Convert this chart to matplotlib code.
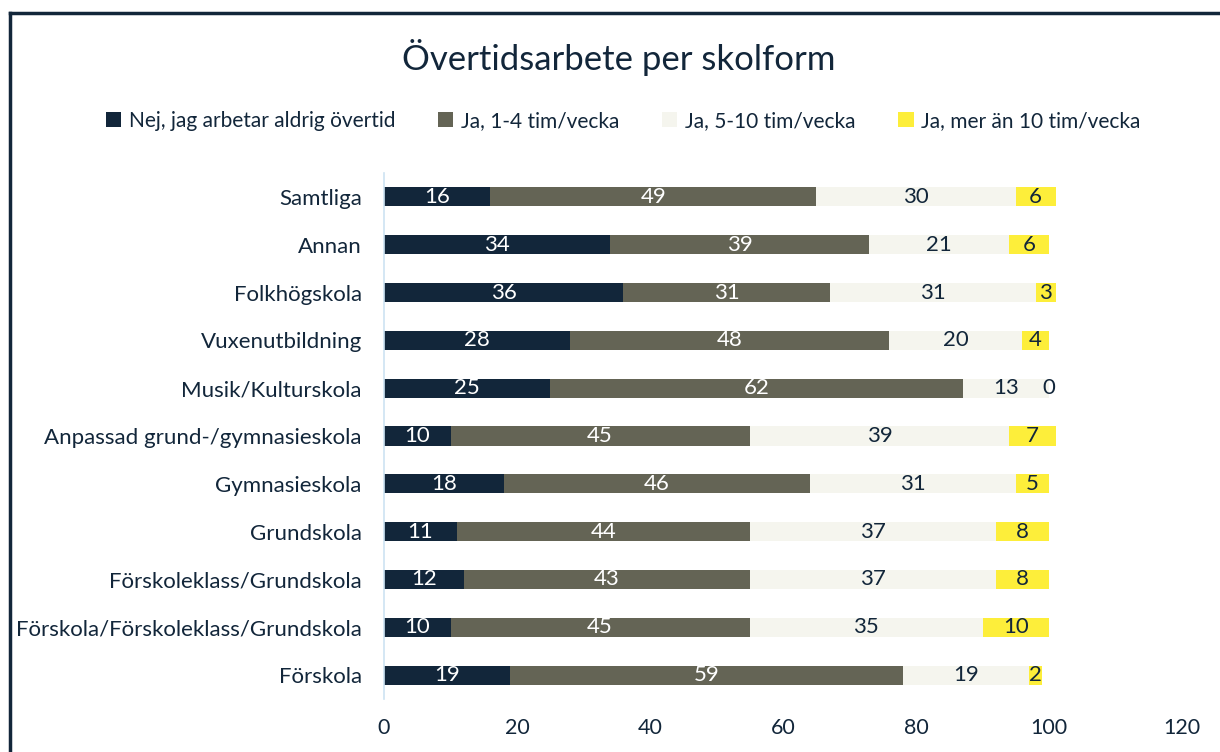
import numpy as np
import matplotlib.pyplot as plt
from matplotlib.lines import Line2D

plt.rcParams['font.family'] = ['Lato', 'DejaVu Sans']

# kategorier (nedifrån och upp)
categories = ['Förskola', 'Förskola/Förskoleklass/Grundskola', 'Förskoleklass/Grundskola',
              'Grundskola', 'Gymnasieskola', 'Anpassad grund-/gymnasieskola',
              'Musik/Kulturskola', 'Vuxenutbildning', 'Folkhögskola', 'Annan', 'Samtliga']

nej = [19, 10, 12, 11, 18, 10, 25, 28, 36, 34, 16]
ja_1_4 = [59, 45, 43, 44, 46, 45, 62, 48, 31, 39, 49]
ja_5_10 = [19, 35, 37, 37, 31, 39, 13, 20, 31, 21, 30]
ja_over_10 = [2, 10, 8, 8, 5, 7, 0, 4, 3, 6, 6]

series_names = ['Nej, jag arbetar aldrig övertid', 'Ja, 1-4 tim/vecka',
                'Ja, 5-10 tim/vecka', 'Ja, mer än 10 tim/vecka']
colors = ['#12263a', '#646455', '#f5f5ee', '#fdee3a']
label_colors = ['white', 'white', '#12263a', '#12263a']
text_col = '#12263a'

fig = plt.figure(figsize=(12.2, 7.52), dpi=100)
ax = fig.add_axes([384 / 1220, 1 - 699 / 752, (1182 - 384) / 1220, (699 - 173) / 752])

y = np.arange(len(categories))
left = np.zeros(len(categories))
for vals, name, c, lc in zip([nej, ja_1_4, ja_5_10, ja_over_10], series_names, colors, label_colors):
    vals = np.array(vals)
    bars = ax.barh(y, vals, left=left, height=0.4, color=c, label=name)
    ax.bar_label(bars, labels=[str(v) for v in vals], label_type='center',
                 color=lc, fontsize=16)
    left += vals

ax.set_xlim(0, 120)
ax.set_ylim(-0.5, len(categories) - 0.5)
ax.set_xticks(range(0, 121, 20))
ax.set_yticks(y)
ax.set_yticklabels(categories, fontsize=16)
ax.tick_params(axis='both', length=0, colors=text_col)
ax.tick_params(axis='y', pad=16)
ax.tick_params(axis='x', pad=14, labelsize=15.5)
for s in ['top', 'right', 'bottom']:
    ax.spines[s].set_visible(False)
ax.spines['left'].set_color('#cde3f2')
ax.spines['left'].set_linewidth(1.2)

fig.text(619 / 1220, 1 - 58 / 752, 'Övertidsarbete per skolform', ha='center', va='center',
         fontsize=25, color=text_col)
fig.legend(loc='center', bbox_to_anchor=(623 / 1220, 1 - 121 / 752), ncol=4,
           frameon=False, fontsize=15, handlelength=0.75, handleheight=0.75,
           columnspacing=2.05, handletextpad=0.35, labelcolor=text_col)

# ram
fig.add_artist(Line2D([9.5 / 1220, 1], [1 - 13 / 752, 1 - 13 / 752], color='#12263a', lw=2.5))
fig.add_artist(Line2D([9.5 / 1220, 9.5 / 1220], [0, 1 - 13 / 752], color='#12263a', lw=2.5))

fig.savefig('out.png', dpi=100)
